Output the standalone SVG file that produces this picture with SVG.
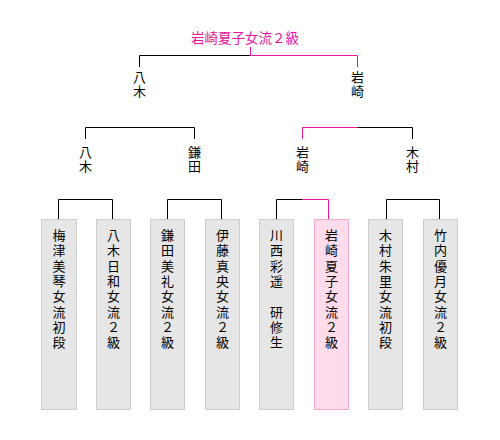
<svg xmlns="http://www.w3.org/2000/svg" width="500" height="440" viewBox="0 0 500 440">
<style>
text{font-family:"Noto Sans CJK JP","Noto Sans CJK SC",sans-serif;font-size:13px;fill:#000;text-anchor:middle}
.t{fill:#e6169e;font-size:13.5px}
.ln{fill:none;stroke:#000;stroke-width:1}
.pk{fill:none;stroke:#e6169e;stroke-width:1}
.box{fill:#e6e6e6;stroke:#cccccc;stroke-width:1}
.pbox{fill:#ffdcec;stroke:#f3a8cf;stroke-width:1}
</style>
<rect width="500" height="440" fill="#fff"/>
<g id="connectors">
<path class="ln" d="M139.5,67 V55.5 H250.5"/>
<path class="pk" d="M250.5,47 V55.5 H357.5 V67"/>
<path class="ln" d="M85.5,139 V127.5 H194.5 V139"/>
<path class="pk" d="M357.5,127.5 H302.5 V139"/>
<path class="ln" d="M357.5,127.5 H412.5 V139"/>
<path class="ln" d="M58.5,219 V199.5 H112.5 V219"/>
<path class="ln" d="M167.5,219 V199.5 H221.5 V219"/>
<path class="ln" d="M276.5,219 V199.5 H302.5"/>
<path class="pk" d="M302.5,199.5 H328.5 V219"/>
<path class="ln" d="M386.5,219 V199.5 H439.5 V219"/>
</g>
<g id="champion"><text class="t" x="245" y="43">岩崎夏子女流２級</text></g>
<g id="final-yagi"><text x="139.5"><tspan x="139.5" y="82">八</tspan><tspan x="139.5" y="96">木</tspan></text></g>
<g id="final-iwasaki"><text x="357.5"><tspan x="357.5" y="82">岩</tspan><tspan x="357.5" y="96">崎</tspan></text></g>
<g id="semi-yagi"><text x="85.5"><tspan x="85.5" y="157">八</tspan><tspan x="85.5" y="171">木</tspan></text></g>
<g id="semi-kamada"><text x="194.5"><tspan x="194.5" y="157">鎌</tspan><tspan x="194.5" y="171">田</tspan></text></g>
<g id="semi-iwasaki"><text x="302.5"><tspan x="302.5" y="157">岩</tspan><tspan x="302.5" y="171">崎</tspan></text></g>
<g id="semi-kimura"><text x="412.5"><tspan x="412.5" y="157">木</tspan><tspan x="412.5" y="171">村</tspan></text></g>
<g id="p1"><rect class="box" x="41.5" y="219.5" width="35" height="190"/>
<text><tspan x="59" y="240">梅</tspan><tspan x="59" dy="15.3">津</tspan><tspan x="59" dy="15.3">美</tspan><tspan x="59" dy="15.3">琴</tspan><tspan x="59" dy="15.3">女</tspan><tspan x="59" dy="15.3">流</tspan><tspan x="59" dy="15.3">初</tspan><tspan x="59" dy="15.3">段</tspan></text></g>
<g id="p2"><rect class="box" x="96.5" y="219.5" width="34" height="190"/>
<text><tspan x="113.5" y="240">八</tspan><tspan x="113.5" dy="15.3">木</tspan><tspan x="113.5" dy="15.3">日</tspan><tspan x="113.5" dy="15.3">和</tspan><tspan x="113.5" dy="15.3">女</tspan><tspan x="113.5" dy="15.3">流</tspan><tspan x="113.5" dy="15.3">２</tspan><tspan x="113.5" dy="15.3">級</tspan></text></g>
<g id="p3"><rect class="box" x="150.5" y="219.5" width="34" height="190"/>
<text><tspan x="167.5" y="240">鎌</tspan><tspan x="167.5" dy="15.3">田</tspan><tspan x="167.5" dy="15.3">美</tspan><tspan x="167.5" dy="15.3">礼</tspan><tspan x="167.5" dy="15.3">女</tspan><tspan x="167.5" dy="15.3">流</tspan><tspan x="167.5" dy="15.3">２</tspan><tspan x="167.5" dy="15.3">級</tspan></text></g>
<g id="p4"><rect class="box" x="205.5" y="219.5" width="34" height="190"/>
<text><tspan x="222.5" y="240">伊</tspan><tspan x="222.5" dy="15.3">藤</tspan><tspan x="222.5" dy="15.3">真</tspan><tspan x="222.5" dy="15.3">央</tspan><tspan x="222.5" dy="15.3">女</tspan><tspan x="222.5" dy="15.3">流</tspan><tspan x="222.5" dy="15.3">２</tspan><tspan x="222.5" dy="15.3">級</tspan></text></g>
<g id="p5"><rect class="box" x="259.5" y="219.5" width="34" height="190"/>
<text><tspan x="276.5" y="240">川</tspan><tspan x="276.5" dy="15.3">西</tspan><tspan x="276.5" dy="15.3">彩</tspan><tspan x="276.5" dy="15.3">遥</tspan><tspan x="276.5" dy="30.6">研</tspan><tspan x="276.5" dy="15.3">修</tspan><tspan x="276.5" dy="15.3">生</tspan></text></g>
<g id="p6"><rect class="pbox" x="314.5" y="219.5" width="34" height="190"/>
<text><tspan x="331.5" y="240">岩</tspan><tspan x="331.5" dy="15.3">崎</tspan><tspan x="331.5" dy="15.3">夏</tspan><tspan x="331.5" dy="15.3">子</tspan><tspan x="331.5" dy="15.3">女</tspan><tspan x="331.5" dy="15.3">流</tspan><tspan x="331.5" dy="15.3">２</tspan><tspan x="331.5" dy="15.3">級</tspan></text></g>
<g id="p7"><rect class="box" x="368.5" y="219.5" width="34" height="190"/>
<text><tspan x="385.5" y="240">木</tspan><tspan x="385.5" dy="15.3">村</tspan><tspan x="385.5" dy="15.3">朱</tspan><tspan x="385.5" dy="15.3">里</tspan><tspan x="385.5" dy="15.3">女</tspan><tspan x="385.5" dy="15.3">流</tspan><tspan x="385.5" dy="15.3">初</tspan><tspan x="385.5" dy="15.3">段</tspan></text></g>
<g id="p8"><rect class="box" x="423.5" y="219.5" width="34" height="190"/>
<text><tspan x="440.5" y="240">竹</tspan><tspan x="440.5" dy="15.3">内</tspan><tspan x="440.5" dy="15.3">優</tspan><tspan x="440.5" dy="15.3">月</tspan><tspan x="440.5" dy="15.3">女</tspan><tspan x="440.5" dy="15.3">流</tspan><tspan x="440.5" dy="15.3">２</tspan><tspan x="440.5" dy="15.3">級</tspan></text></g>
</svg>
